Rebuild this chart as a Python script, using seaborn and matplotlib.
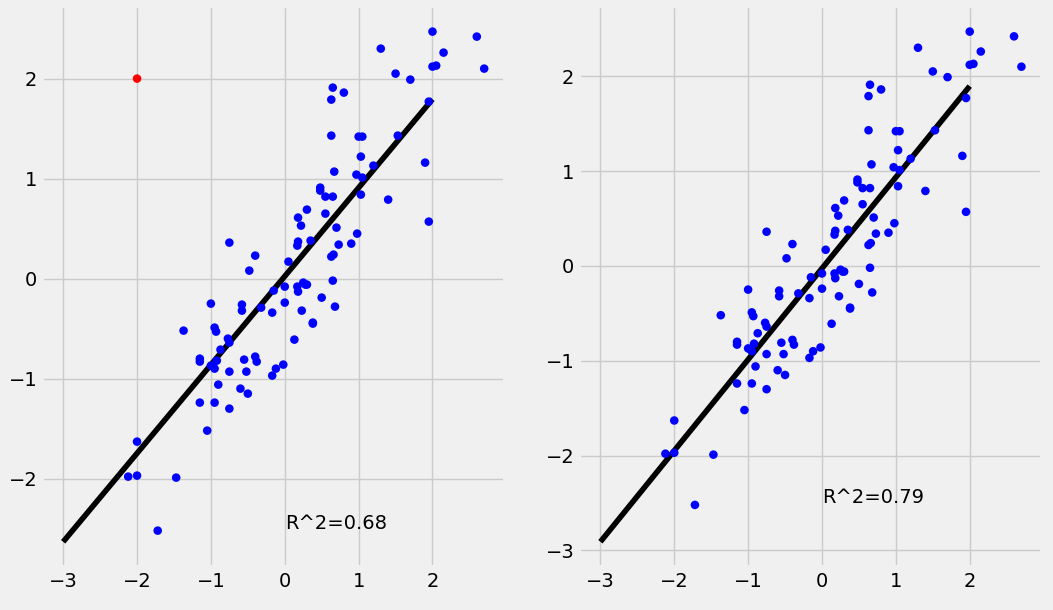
import numpy as np
import matplotlib.pyplot as plt
import seaborn as sns

plt.style.use('fivethirtyeight')

x = np.array([2.6, 2.0, 2.7, 2.15, 2.0, 2.05, 1.3, 1.5, 1.7, 0.65, 0.8, 0.63, 1.95, 1.9, 1.95,
              1.53, 1.0, 1.05, 0.63, 1.2, 1.03, 0.97, 1.05, 0.67, 1.03, 1.4, 0.48, 0.48, 0.55,
              0.65, 0.3, 0.55, 0.18, 0.22, 0.7, 0.18, 0.17, 0.35, 0.73, 0.9, 0.98, 0.63, 0.66,
              0.65, 0.05, 0.25, 0.28, 0.3, 0.17, 0.18, 0.0, -0.15, 0.0, 0.5, 0.68, 0.23, 0.38,
              0.38, 0.13, -0.02, -0.12, -0.17, -0.17, -0.32, -0.58, -0.58, -0.4, -0.48, -0.75,
              -1.0, -0.95, -0.93, -0.77, -0.75, -0.87, -1.37, -1.15, -1.15, -0.92, -0.97, -0.95,
              -0.4, -0.38, -0.55, -0.75, -0.52, -1.0, -0.9, -0.6, -0.5, -1.15, -0.95, -0.75,
              -1.05, -2.0, -1.47, -2.12, -2.0, -1.72])
y = np.array([2.42, 2.47, 2.1, 2.26, 2.12, 2.13, 2.3, 2.05, 1.99, 1.91, 1.86, 1.79, 1.77, 1.16, 0.57,
              1.43, 1.42, 1.42, 1.43, 1.13, 1.22, 1.04, 1.01, 1.07, 0.84, 0.79, 0.91, 0.88, 0.82,
              0.82, 0.69, 0.65, 0.61, 0.53, 0.51, 0.37, 0.33, 0.38, 0.34, 0.35, 0.45, 0.22, 0.24,
              -0.02, 0.17, -0.04, -0.06, -0.06, -0.08, -0.13, -0.08, -0.12, -0.24, -0.19, -0.28,
              -0.32, -0.45, -0.44, -0.61, -0.86, -0.9, -0.97, -0.34, -0.29, -0.26, -0.32, 0.23,
              0.08, 0.36, -0.25, -0.49, -0.53, -0.6, -0.64, -0.71, -0.52, -0.8, -0.83, -0.82,
              -0.88, -0.9, -0.78, -0.83, -0.81, -0.93, -0.93, -0.87, -1.06, -1.1, -1.15, -1.24,
              -1.24, -1.3, -1.52, -1.63, -1.99, -1.98, -1.97, -2.52])
outlier_x = [-2.0]
outlier_y = [2.0]


def fit_panel(ax, xs, ys):
    b, a = np.polyfit(xs, ys, 1)
    pred = a + b * xs
    r2 = 1 - np.sum((ys - pred) ** 2) / np.sum((ys - ys.mean()) ** 2)
    lx = np.array([-3, 2])
    ax.plot(lx, a + b * lx, color='black')
    ax.text(0, -2.5, 'R^2=%.2f' % r2, fontsize=14)


fig, axes = plt.subplots(1, 2, figsize=(10.53, 6.1), dpi=100)
fig.patch.set_facecolor('#f0f0f0')

ax = axes[0]
sns.scatterplot(x=x, y=y, ax=ax, color='blue', s=38, edgecolor='none', zorder=3)
sns.scatterplot(x=outlier_x, y=outlier_y, ax=ax, color='red', s=38, edgecolor='none', zorder=3)
fit_panel(ax, np.append(x, outlier_x), np.append(y, outlier_y))

ax = axes[1]
sns.scatterplot(x=x, y=y, ax=ax, color='blue', s=38, edgecolor='none', zorder=3)
fit_panel(ax, x, y)

for ax in axes:
    ax.set_xticks([-3, -2, -1, 0, 1, 2])
plt.subplots_adjust(left=0.04, right=0.99, bottom=0.07, top=0.99, wspace=0.16)
plt.savefig('out.png', dpi=100, facecolor=fig.get_facecolor())
